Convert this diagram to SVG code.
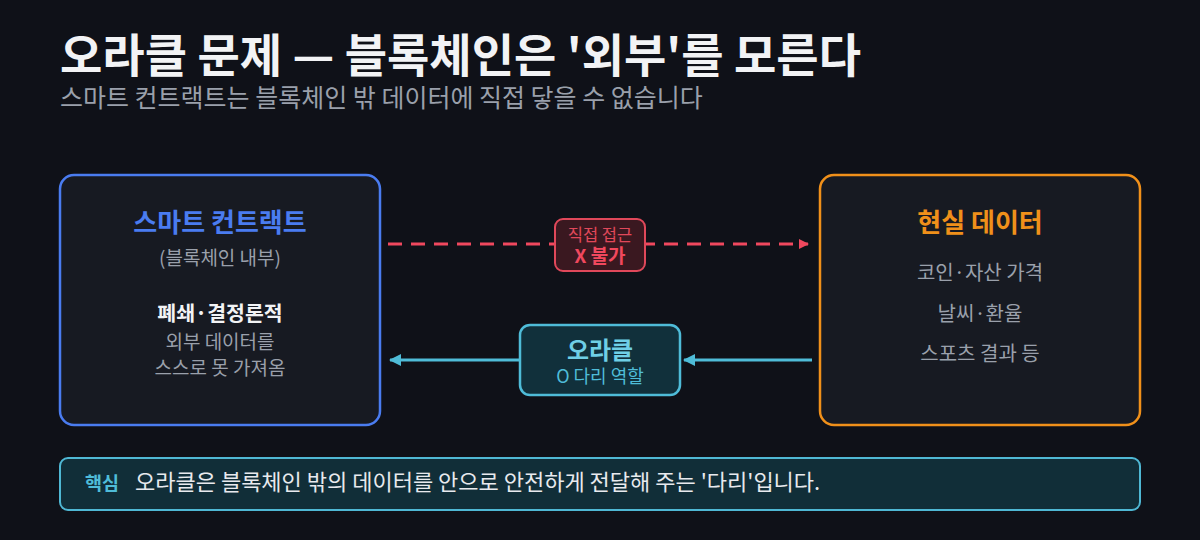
<svg xmlns="http://www.w3.org/2000/svg" width="1200" height="540" viewBox="0 0 1200 540">
<style>
text{font-family:"Noto Sans CJK KR","Noto Sans",sans-serif;}
.c{text-anchor:middle;}
.g{fill:#9aa0ab;}
.box{fill:#171a22;stroke-width:2.5;}
</style>
<defs>
<marker id="ar" viewBox="0 0 10 10" refX="9" refY="5" markerWidth="10" markerHeight="10" markerUnits="userSpaceOnUse" orient="auto"><path d="M0,0 L10,5 L0,10 z" fill="#f0485e"/></marker>
<marker id="ac" viewBox="0 0 12 12" refX="11" refY="6" markerWidth="12" markerHeight="12" markerUnits="userSpaceOnUse" orient="auto"><path d="M0,0 L12,6 L0,12 z" fill="#4fbcd8"/></marker>
</defs>
<rect width="1200" height="540" fill="#0f1118"/>
<text x="60" y="72" font-size="46" font-weight="700" fill="#f2f3f5">오라클 문제 — 블록체인은 '외부'를 모른다</text>
<text x="60" y="107" font-size="25" class="g">스마트 컨트랙트는 블록체인 밖 데이터에 직접 닿을 수 없습니다</text>

<g id="smart-contract">
<rect class="box" x="60" y="175" width="320" height="250" rx="14" stroke="#4a7cf0"/>
<text x="220" y="232" class="c" font-size="26" font-weight="700" fill="#4a7cf0">스마트 컨트랙트</text>
<text x="220" y="265" class="c g" font-size="19">(블록체인 내부)</text>
<text x="220" y="321" class="c" font-size="20.5" font-weight="700" fill="#f2f3f5">폐쇄·결정론적</text>
<text x="220" y="349" class="c g" font-size="19">외부 데이터를</text>
<text x="220" y="375" class="c g" font-size="19">스스로 못 가져옴</text>
</g>

<g id="real-data">
<rect class="box" x="820" y="175" width="320" height="250" rx="14" stroke="#f0901a"/>
<text x="980" y="232" class="c" font-size="26" font-weight="700" fill="#f0901a">현실 데이터</text>
<text x="980" y="280" class="c g" font-size="20">코인·자산 가격</text>
<text x="980" y="321" class="c g" font-size="20">날씨·환율</text>
<text x="980" y="361" class="c g" font-size="20">스포츠 결과 등</text>
</g>

<g id="connectors">
<line x1="388" y1="244" x2="808" y2="244" stroke="#f0485e" stroke-width="3" stroke-dasharray="14,9" marker-end="url(#ar)"/>
<line x1="812" y1="360" x2="684" y2="360" stroke="#4fbcd8" stroke-width="3" marker-end="url(#ac)"/>
<line x1="520" y1="360" x2="390" y2="360" stroke="#4fbcd8" stroke-width="3" marker-end="url(#ac)"/>
</g>

<g id="direct-label">
<rect x="555" y="219" width="90" height="52" rx="8" fill="#3a1820" stroke="#e0485a" stroke-width="2"/>
<text x="600" y="241" class="c" font-size="16.5" fill="#e0485a">직접 접근</text>
<text x="600" y="263" class="c" font-size="19" font-weight="700" fill="#f0485e">X 불가</text>
</g>

<g id="oracle">
<rect x="520" y="325" width="160" height="70" rx="10" fill="#11303b" stroke="#4fbcd8" stroke-width="2.5"/>
<text x="600" y="359" class="c" font-size="24" font-weight="700" fill="#6fcfe6">오라클</text>
<text x="600" y="383" class="c" font-size="18" fill="#4fbcd8">O 다리 역할</text>
</g>

<g id="key-note">
<rect x="60" y="458" width="1080" height="52" rx="8" fill="#112e38" stroke="#4fb8d4" stroke-width="2"/>
<text x="85" y="490" font-size="18.5" font-weight="700" fill="#4fbcd8">핵심</text>
<text x="135" y="490" font-size="22" fill="#e8eaee">오라클은 블록체인 밖의 데이터를 안으로 안전하게 전달해 주는 '다리'입니다.</text>
</g>
</svg>
